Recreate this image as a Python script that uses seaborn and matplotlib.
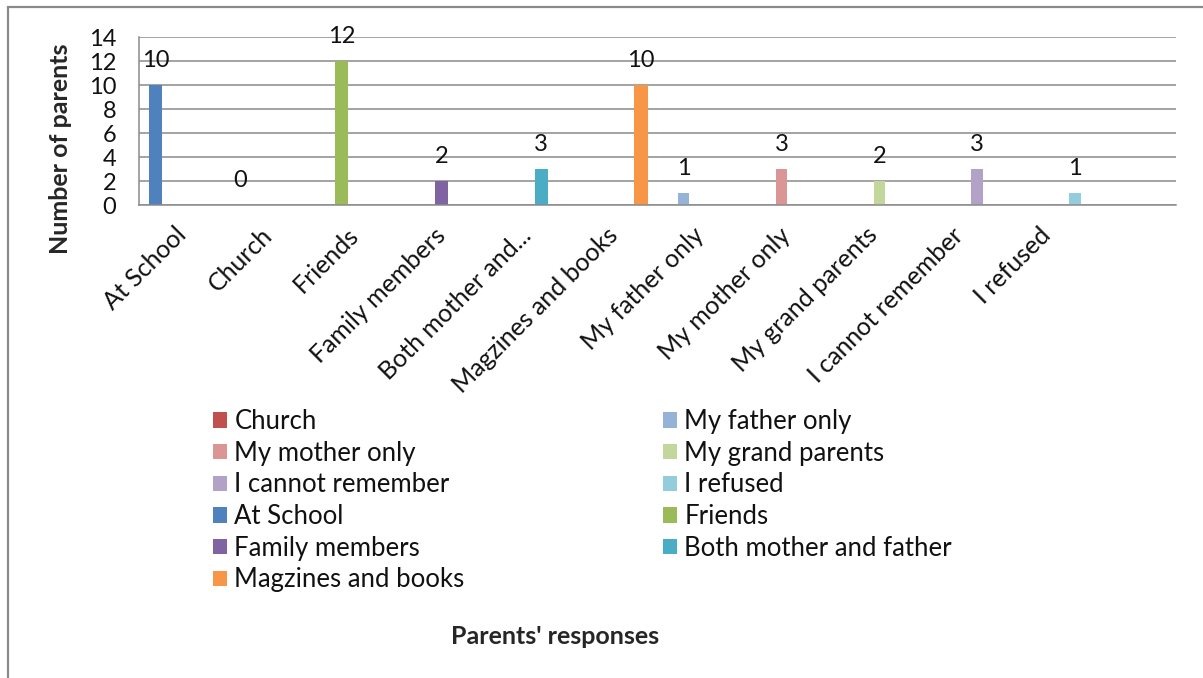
import matplotlib
matplotlib.use("Agg")
import matplotlib.pyplot as plt
from matplotlib.patches import Patch, Rectangle
import pandas as pd
import seaborn as sns

# Categories on the x axis (the last slot is left blank)
categories = ["At School", "Church", "Friends", "Family members", "Both mother and...",
              "Magzines and books", "My father only", "My mother only", "My grand parents",
              "I cannot remember", "I refused", ""]

# Primary-axis series: name, category, value
primary_series = ["At School", "Friends", "Family members", "Both mother and father", "Magzines and books"]
primary_cats = ["At School", "Friends", "Family members", "Both mother and...", "Magzines and books"]
primary_values = [10, 12, 2, 3, 10]

# Secondary-axis series
secondary_series = ["Church", "My father only", "My mother only", "My grand parents",
                    "I cannot remember", "I refused"]
secondary_cats = ["Church", "My father only", "My mother only", "My grand parents",
                  "I cannot remember", "I refused"]
secondary_values = [0, 1, 3, 2, 3, 1]

colors = {
    "At School": "#4F81BD", "Church": "#C0504D", "Friends": "#9BBB59",
    "Family members": "#8064A2", "Both mother and father": "#4BACC6",
    "Magzines and books": "#F79646", "My father only": "#95B3D7",
    "My mother only": "#D99694", "My grand parents": "#C3D69B",
    "I cannot remember": "#B3A2C7", "I refused": "#93CDDD",
}

sns.set_style("white")
plt.rcParams["font.family"] = ["Lato", "DejaVu Sans"]

W, H = 1203, 678
fig = plt.figure(figsize=(W / 100, H / 100), dpi=100)

# axes box in pixel terms
ax_l, ax_r, ax_t, ax_b = 139, 1176, 37, 205
ax = fig.add_axes([ax_l / W, 1 - ax_b / H, (ax_r - ax_l) / W, (ax_b - ax_t) / H])

df_p = pd.DataFrame({"category": primary_cats, "value": primary_values, "series": primary_series})
df_s = pd.DataFrame({"category": secondary_cats, "value": secondary_values, "series": secondary_series})

# Excel-like clustering: gap width 150% of a bar
sns.barplot(data=df_p, x="category", y="value", hue="series", order=categories,
            hue_order=primary_series, palette=colors, width=5 / 6.5, dodge=True,
            saturation=1, linewidth=0, legend=False, ax=ax, errorbar=None)
sns.barplot(data=df_s, x="category", y="value", hue="series", order=categories,
            hue_order=secondary_series, palette=colors, width=6 / 7.5, dodge=True,
            saturation=1, linewidth=0, legend=False, ax=ax, errorbar=None)

for cont in ax.containers:
    ax.bar_label(cont, fmt="%g", padding=10, fontsize=17, color="#111111")

grid_c = "#8a8a8a"
ax.set_ylim(0, 14)
ax.set_xlim(-0.5, len(categories) - 0.5)
ax.set_yticks(range(0, 15, 2))
ax.yaxis.grid(True, color=grid_c, linewidth=1.1)
ax.set_axisbelow(True)
for s in ["top", "right"]:
    ax.spines[s].set_visible(False)
for s in ["left", "bottom"]:
    ax.spines[s].set_color(grid_c)
    ax.spines[s].set_linewidth(1.1)

# category labels at centers, tick marks at boundaries
ax.set_xticks(range(len(categories)))
ax.set_xticklabels(categories, rotation=45, ha="right", va="center",
                   rotation_mode="anchor", fontsize=18, color="#111111")
ax.tick_params(axis="x", which="major", length=0, pad=19)
ax.set_xticks([i - 0.5 for i in range(len(categories) + 1)], minor=True)
ax.tick_params(axis="x", which="minor", length=7, width=1.1, color=grid_c, direction="out")
ax.tick_params(axis="y", length=7, width=1.1, color=grid_c, direction="out",
               labelsize=17, pad=9.5, labelcolor="#111111")

ax.set_ylabel("Number of parents", fontsize=18, fontweight="bold", ha="center", va="center")
ax.yaxis.set_label_coords((60 - ax_l) / (ax_r - ax_l), (ax_b - 149) / (ax_b - ax_t))
ax.set_xlabel("Parents' responses", fontsize=18, fontweight="bold", ha="center", va="center")
ax.xaxis.set_label_coords((555 - ax_l) / (ax_r - ax_l), (ax_b - 637) / (ax_b - ax_t))

# two-column legend
col1 = ["Church", "My mother only", "I cannot remember", "At School", "Family members",
        "Magzines and books"]
col2 = ["My father only", "My grand parents", "I refused", "Friends", "Both mother and father"]
leg_kw = dict(frameon=False, fontsize=18.5, handlelength=0.55, handleheight=0.55,
              handletextpad=0.28, labelspacing=0.26, borderpad=0, borderaxespad=0,
              loc="upper left", labelcolor="#111111")
for names, x0 in [(col1, 213), (col2, 663)]:
    handles = [Patch(facecolor=colors[n], edgecolor="none", label=n) for n in names]
    fig.legend(handles=handles, bbox_to_anchor=(x0 / W, 1 - 409 / H), **leg_kw)

# chart outline
fig.patches.append(Rectangle((8 / W, -0.1), 1.2, 1.1 - 7 / H, transform=fig.transFigure,
                             fill=False, edgecolor="#8a8a8a", linewidth=1.6))

fig.savefig("out.png", dpi=100)
